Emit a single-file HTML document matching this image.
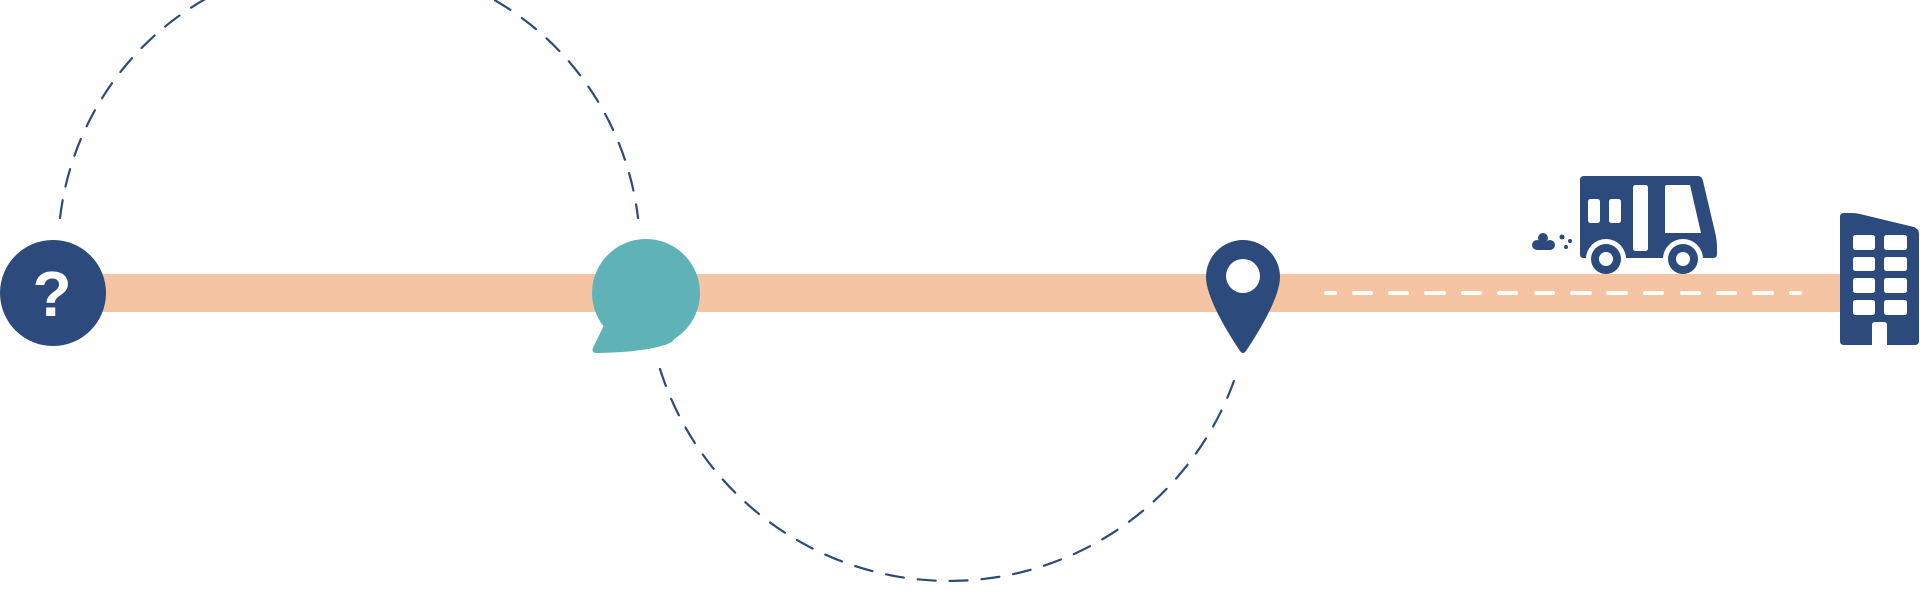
<!DOCTYPE html>
<html><head><meta charset="utf-8"><style>html,body{margin:0;padding:0;background:#fff;width:1920px;height:601px;overflow:hidden}</style></head>
<body>
<svg width="1920" height="601" viewBox="0 0 1920 601" xmlns="http://www.w3.org/2000/svg">
<defs><clipPath id="above"><rect x="1570" y="170" width="160" height="88"/></clipPath></defs>
<!-- road -->
<rect x="40" y="274" width="1810" height="38" fill="#f5c5a3"/>
<!-- dashes -->
<g stroke="#fff" stroke-width="4" stroke-linecap="round">
<line x1="1326" y1="293" x2="1335" y2="293"/>
<line x1="1354" y1="293" x2="1371" y2="293"/>
<line x1="1390" y1="293" x2="1407" y2="293"/>
<line x1="1426" y1="293" x2="1444" y2="293"/>
<line x1="1463" y1="293" x2="1480" y2="293"/>
<line x1="1499" y1="293" x2="1516" y2="293"/>
<line x1="1536" y1="293" x2="1553" y2="293"/>
<line x1="1572" y1="293" x2="1590" y2="293"/>
<line x1="1608" y1="293" x2="1626" y2="293"/>
<line x1="1645" y1="293" x2="1662" y2="293"/>
<line x1="1682" y1="293" x2="1699" y2="293"/>
<line x1="1718" y1="293" x2="1735" y2="293"/>
<line x1="1754" y1="293" x2="1772" y2="293"/>
<line x1="1791" y1="293" x2="1800" y2="293"/>
</g>
<!-- arcs -->
<g fill="none" stroke="#2c4b7c" stroke-width="2.2" stroke-dasharray="18 14" stroke-linecap="round">
<path d="M 60 218 A 291 291 0 0 1 638 218"/>
<path d="M 660 369 A 303 303 0 0 0 1238 369"/>
</g>
<!-- question circle -->
<circle cx="53" cy="293" r="53" fill="#2c4b7c"/>
<text x="52" y="316" text-anchor="middle" font-family="Liberation Sans, sans-serif" font-weight="bold" font-size="64" fill="#fff">?</text>
<!-- bubble -->
<circle cx="646" cy="293" r="54" fill="#5fb3b7"/>
<path d="M 604 325 L 593 348 Q 591 353 597 353 Q 652 352 672 342 L 690 318 Z" fill="#5fb3b7"/>
<!-- pin -->
<path d="M1206 277 A37 37 0 0 1 1280 277 C1280 300 1252 342 1246 351 Q1243 355 1240 351 C1234 342 1206 300 1206 277Z" fill="#2c4b7c"/>
<circle cx="1243" cy="276" r="17" fill="#fff"/>
<!-- truck -->
<path d="M1584 176 H1698 Q1702 176 1703 181 L1715 232 Q1717 240 1717 248 V254 Q1717 258 1713 258 H1583 Q1580 258 1580 254 V180 Q1580 176 1584 176Z" fill="#2c4b7c"/>
<g fill="#fff">
<rect x="1588" y="199" width="12" height="24" rx="2.5"/>
<rect x="1609" y="199" width="12" height="24" rx="2.5"/>
<rect x="1633" y="185" width="15" height="66" rx="2.5"/>
<path d="M1667 185 H1690 L1701 233 H1665 V187 Q1665 185 1667 185Z"/>
<g clip-path="url(#above)"><circle cx="1606" cy="259" r="20"/><circle cx="1683" cy="259" r="20"/></g>
</g>
<circle cx="1606" cy="259" r="15" fill="#2c4b7c"/><circle cx="1606" cy="259" r="7" fill="#fff"/>
<circle cx="1683" cy="259" r="15" fill="#2c4b7c"/><circle cx="1683" cy="259" r="7" fill="#fff"/>
<g fill="#2c4b7c">
<circle cx="1537" cy="245" r="5"/><circle cx="1543" cy="238" r="5"/><circle cx="1550" cy="245" r="5"/>
<rect x="1535" y="242" width="18" height="8" rx="3"/>
<circle cx="1562" cy="237" r="2.5"/><circle cx="1570" cy="241" r="2"/><circle cx="1566" cy="247" r="2"/>
</g>
<!-- building -->
<path d="M1844 213 H1852 Q1856 213 1860 214 L1914 227 Q1919 229 1919 234 V341 Q1919 345 1915 345 H1844 Q1840 345 1840 341 V217 Q1840 213 1844 213Z" fill="#2c4b7c"/>
<g fill="#fff">
<rect x="1853" y="235" width="22" height="15" rx="2.5"/><rect x="1884" y="235" width="23" height="15" rx="2.5"/>
<rect x="1853" y="257" width="22" height="14" rx="2.5"/><rect x="1884" y="257" width="23" height="14" rx="2.5"/>
<rect x="1853" y="278" width="22" height="15" rx="2.5"/><rect x="1884" y="278" width="23" height="15" rx="2.5"/>
<rect x="1853" y="300" width="22" height="15" rx="2.5"/><rect x="1884" y="300" width="23" height="15" rx="2.5"/>
<path d="M1872 345 V325 Q1872 322 1875 322 H1884 Q1887 322 1887 325 V345Z"/>
</g>
</svg>
</body></html>
